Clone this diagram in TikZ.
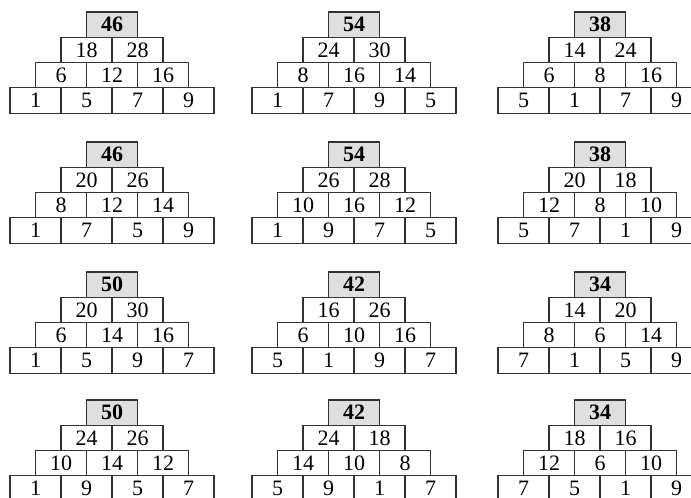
\documentclass[tikz,border=0pt]{standalone}
\usepackage{fontspec}
\setmainfont{Liberation Serif}
\tikzset{
  cell/.style={draw=black!80, line width=1.1pt, minimum width=51pt, minimum height=25.3pt, inner sep=0pt, font=\fontsize{22}{22}\selectfont},
  topcell/.style={cell, fill=gray!25, font=\fontsize{22}{22}\selectfont\bfseries}
}
\begin{document}
\begin{tikzpicture}[x=1pt,y=1pt]
    % page frame
    \useasboundingbox (0,0) rectangle (691,498);
    \clip (0,0) rectangle (691,498);

    % pyramids: number, centre x, top y, top cell, row 2, row 3, row 4
    \foreach \k/\cx/\cy/\t/\ma/\mb/\na/\nb/\nc/\ba/\bb/\bc/\bd in {
        1/112/486/46/18/28/6/12/16/1/5/7/9,
        2/354/486/54/24/30/8/16/14/1/7/9/5,
        3/600/486/38/14/24/6/8/16/5/1/7/9,
        4/112/356/46/20/26/8/12/14/1/7/5/9,
        5/354/356/54/26/28/10/16/12/1/9/7/5,
        6/600/356/38/20/18/12/8/10/5/7/1/9,
        7/112/226/50/20/30/6/14/16/1/5/9/7,
        8/354/226/42/16/26/6/10/16/5/1/9/7,
        9/600/226/34/14/20/8/6/14/7/1/5/9,
        10/112/98/50/24/26/10/14/12/1/9/5/7,
        11/354/98/42/24/18/14/10/8/5/9/1/7,
        12/600/98/34/18/16/12/6/10/7/5/1/9}
    {
        % top
        \node[topcell] (t\k) at (\cx,{\cy-12.65}) {\t};
        % row 2
        \node[cell] (m\k a) at ({\cx-25.5},{\cy-37.95}) {\ma};
        \node[cell] (m\k b) at ({\cx+25.5},{\cy-37.95}) {\mb};
        % row 3
        \node[cell] (n\k a) at ({\cx-51},{\cy-63.25}) {\na};
        \node[cell] (n\k b) at (\cx,{\cy-63.25}) {\nb};
        \node[cell] (n\k c) at ({\cx+51},{\cy-63.25}) {\nc};
        % bottom row
        \node[cell] (b\k a) at ({\cx-76.5},{\cy-88.55}) {\ba};
        \node[cell] (b\k b) at ({\cx-25.5},{\cy-88.55}) {\bb};
        \node[cell] (b\k c) at ({\cx+25.5},{\cy-88.55}) {\bc};
        \node[cell] (b\k d) at ({\cx+76.5},{\cy-88.55}) {\bd};
    }
\end{tikzpicture}
\end{document}
